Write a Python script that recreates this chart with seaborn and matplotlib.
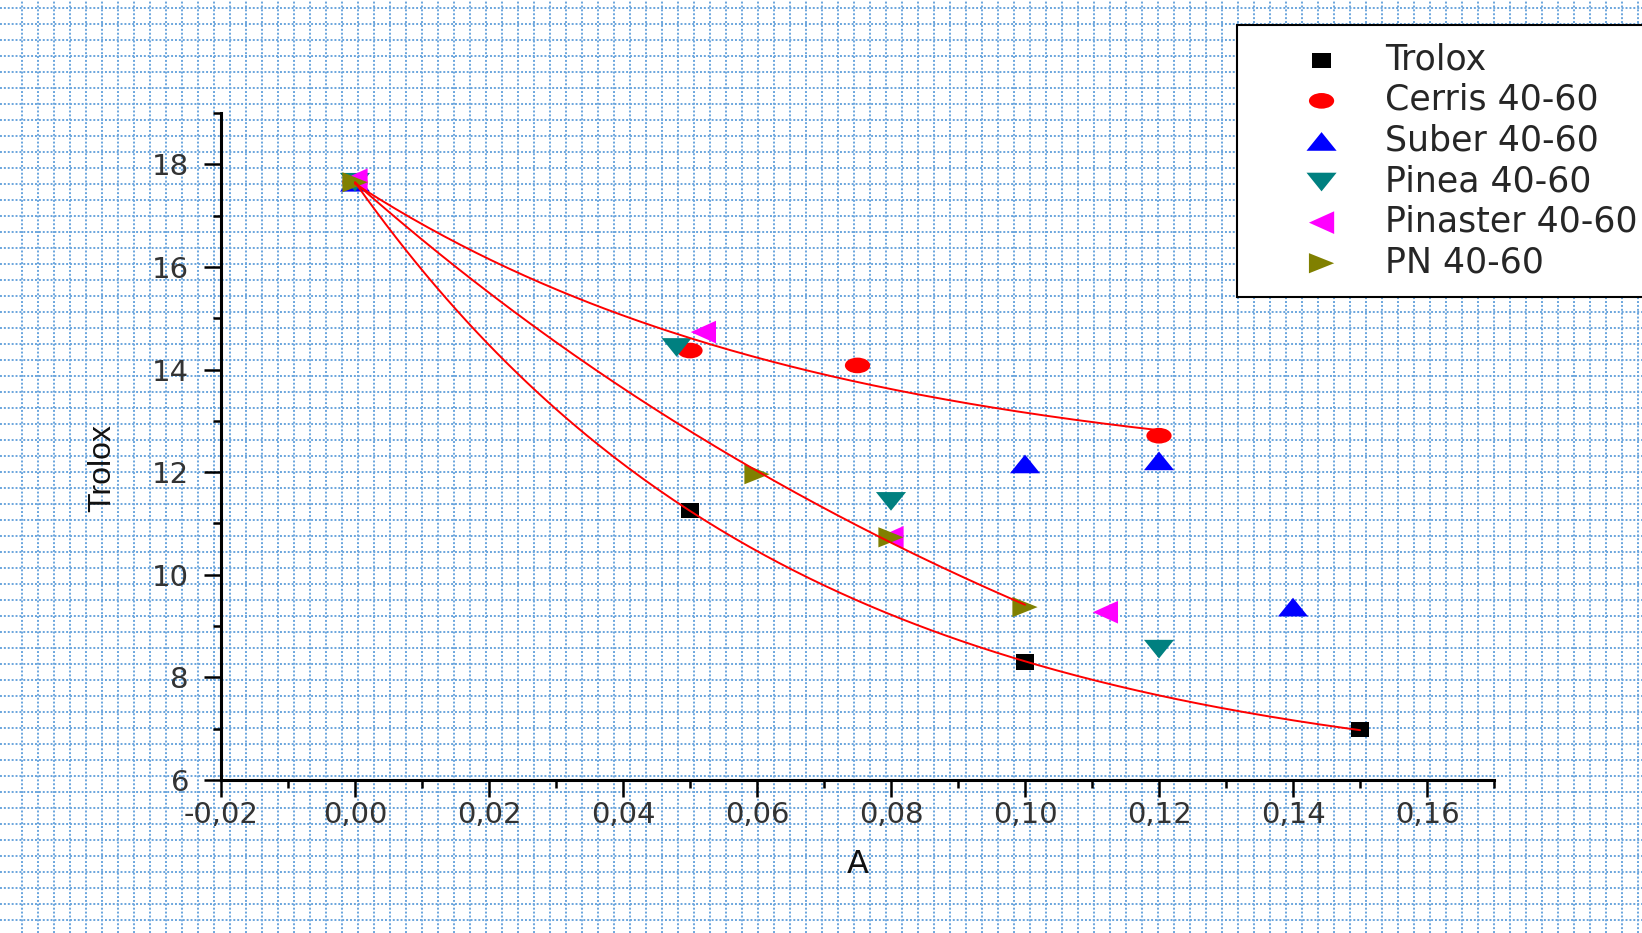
import numpy as np
import matplotlib.pyplot as plt
import seaborn as sns
from matplotlib.markers import MarkerStyle
from matplotlib.transforms import Affine2D
from matplotlib.ticker import FixedLocator, MultipleLocator

# -----------------
# Data
# -----------------
trolox_x = [0.0, 0.05, 0.10, 0.15]
trolox_y = [17.65, 11.25, 8.30, 6.98]

cerris_x = [0.0, 0.05, 0.075, 0.12]
cerris_y = [17.65, 14.37, 14.08, 12.71]

suber_x = [0.0, 0.10, 0.12, 0.14]
suber_y = [17.65, 12.16, 12.22, 9.37]

pinea_x = [0.0, 0.048, 0.08, 0.12]
pinea_y = [17.65, 14.43, 11.43, 8.55]

pinaster_x = [0.0, 0.052, 0.08, 0.112]
pinaster_y = [17.70, 14.73, 10.73, 9.27]

pn_x = [0.0, 0.06, 0.08, 0.10]
pn_y = [17.65, 11.96, 10.73, 9.37]

series_names = ["Trolox", "Cerris 40-60", "Suber 40-60", "Pinea 40-60",
                "Pinaster 40-60", "PN 40-60"]

x_ticks = [-0.02, 0.00, 0.02, 0.04, 0.06, 0.08, 0.10, 0.12, 0.14, 0.16]
x_tick_labels = ["-0,02", "0,00", "0,02", "0,04", "0,06", "0,08",
                 "0,10", "0,12", "0,14", "0,16"]
y_ticks = [6, 8, 10, 12, 14, 16, 18]
y_tick_labels = ["6", "8", "10", "12", "14", "16", "18"]


def exp_decay_fit(x, y):
    """y = y0 + A*exp(-x/t), fitted by scanning t and solving y0, A linearly."""
    x = np.asarray(x, float)
    y = np.asarray(y, float)
    best = None
    for t in np.linspace(0.005, 1.0, 4000):
        M = np.column_stack([np.ones_like(x), np.exp(-x / t)])
        coef = np.linalg.lstsq(M, y, rcond=None)[0]
        err = np.sum((M @ coef - y) ** 2)
        if best is None or err < best[0]:
            best = (err, coef[0], coef[1], t)
    return best[1:]


# -----------------
# Figure
# -----------------
sns.set_style("ticks")
plt.rcParams["font.family"] = ["DejaVu Sans"]

W, H = 1642, 933
fig = plt.figure(figsize=(W / 100, H / 100), dpi=100)

# graph-paper background
bg = fig.add_axes([0, 0, 1, 1], zorder=0)
bg.set_xlim(0, W)
bg.set_ylim(H, 0)
bg.set_xticks(np.arange(21.5, W, 16))
bg.set_yticks(np.arange(7.5, H, 16))
bg.grid(True, color="#6aa5dd", linestyle=(0, (1, 1)), linewidth=1.4)
bg.tick_params(length=0, labelbottom=False, labelleft=False)
for s in bg.spines.values():
    s.set_visible(False)

ax = fig.add_axes([221 / W, 1 - 780 / H, (1494 - 221) / W, (780 - 113) / H], zorder=1)
ax.set_facecolor("none")

styles = [
    (trolox_x, trolox_y, "#000000", MarkerStyle("s", transform=Affine2D().scale(1, 0.85)), 170),
    (cerris_x, cerris_y, "#ff0000", MarkerStyle("o", transform=Affine2D().scale(1, 0.62)), 330),
    (suber_x, suber_y, "#0000ff", MarkerStyle("^", transform=Affine2D().scale(1, 0.62)), 470),
    (pinea_x, pinea_y, "#008080", MarkerStyle("v", transform=Affine2D().scale(1, 0.62)), 470),
    (pinaster_x, pinaster_y, "#ff00ff", MarkerStyle("<", transform=Affine2D().scale(1, 0.9)), 330),
    (pn_x, pn_y, "#808000", MarkerStyle(">", transform=Affine2D().scale(1, 0.8)), 330),
]

for name, (xs, ys, col, mk, size) in zip(series_names, styles):
    sns.scatterplot(x=xs, y=ys, marker=mk, color=col, s=size, linewidth=0,
                    edgecolor="none", label=name, ax=ax, zorder=3)

# fitted exponential decay curves (Trolox, Cerris, PN)
for fx, fy in [(trolox_x, trolox_y), (cerris_x, cerris_y), (pn_x, pn_y)]:
    y0, A, t = exp_decay_fit(fx, fy)
    xx = np.linspace(0, max(fx), 200)
    sns.lineplot(x=xx, y=y0 + A * np.exp(-xx / t), color="#ff0000",
                 linewidth=1.4, ax=ax, zorder=4, label="_nolegend_")

ax.set_xlim(-0.02, 0.17)
ax.set_ylim(6, 19)
ax.xaxis.set_major_locator(FixedLocator(x_ticks))
ax.set_xticklabels(x_tick_labels)
ax.xaxis.set_minor_locator(MultipleLocator(0.01))
ax.yaxis.set_major_locator(FixedLocator(y_ticks))
ax.set_yticklabels(y_tick_labels)
ax.yaxis.set_minor_locator(MultipleLocator(1))

for side in ["top", "right"]:
    ax.spines[side].set_visible(False)
for side in ["left", "bottom"]:
    ax.spines[side].set_linewidth(2.2)
    ax.spines[side].set_color("black")

ax.tick_params(which="major", direction="out", length=12, width=1.8,
               color="black", labelsize=21, labelcolor="#333333")
ax.tick_params(axis="x", which="major", pad=3)
ax.tick_params(axis="y", which="major", pad=11)
ax.tick_params(which="minor", direction="out", length=6, width=1.8, color="black")

ax.set_xlabel("A", fontsize=23, color="#111111")
ax.xaxis.set_label_coords(0.5, -0.127)
ax.xaxis.label.set_va("center")
ax.set_ylabel("Trolox", fontsize=23, color="#111111", family=["Liberation Sans"])
ax.yaxis.set_label_coords(-0.093, 0.468)
ax.yaxis.label.set_va("center")

leg = ax.legend(loc="upper left", bbox_to_anchor=(1237 / W, 1 - 25 / H),
                bbox_transform=fig.transFigure, borderaxespad=0,
                frameon=True, fancybox=False, framealpha=1, edgecolor="black",
                fontsize=25, borderpad=0.5, labelspacing=0.19,
                handlelength=3.87, handletextpad=-0.1, scatterpoints=1)
leg.get_frame().set_linewidth(1.5)
leg.set_zorder(10)

fig.savefig("out.png", dpi=100)
